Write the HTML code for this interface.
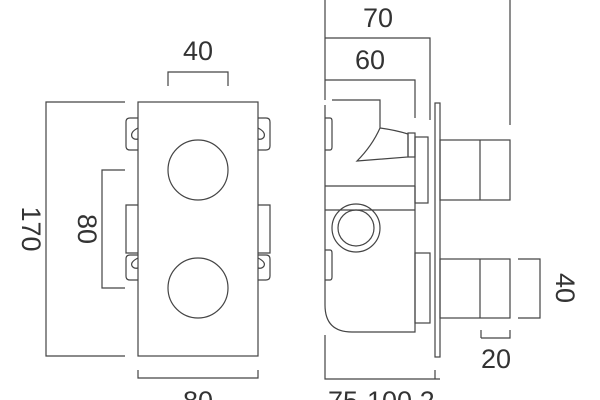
<!DOCTYPE html>
<html><head><style>
html,body{margin:0;padding:0;background:#fff;width:600px;height:400px;overflow:hidden}
text{font-family:"Liberation Sans",sans-serif;font-size:27px;fill:#333}
</style></head><body>
<svg width="600" height="400" viewBox="0 0 600 400" xmlns="http://www.w3.org/2000/svg">
<g fill="none" stroke="#444" stroke-width="1.2">
<rect x="138" y="102" width="120" height="254"/>
<circle cx="198" cy="170" r="30"/>
<circle cx="198" cy="288" r="30"/>
<path d="M168,86 V72 H228 V86"/>
<path d="M125,102 H46 V356 H125"/>
<path d="M125,170 H102 V288 H125"/>
<path d="M138,370 V378 H258 V370"/>
<path d="M138,118 H130 Q126,118 126,122 V146 Q126,150 130,150 H138"/>
<path d="M138,128 Q130,132 132,137 Q134,140 138,139"/>
<path d="M258,118 H266 Q270,118 270,122 V146 Q270,150 266,150 H258"/>
<path d="M258,128 Q266,132 264,137 Q262,140 258,139"/>
<path d="M138,205 H126 V253 H138"/>
<path d="M258,205 H270 V253 H258"/>
<path d="M138,255 H130 Q126,255 126,259 V276 Q126,280 130,280 H138"/>
<path d="M138,258 Q130,262 132,266 Q134,269 138,268"/>
<path d="M258,255 H266 Q270,255 270,259 V276 Q270,280 266,280 H258"/>
<path d="M258,258 Q266,262 264,266 Q262,269 258,268"/>
<path d="M325,105 V305 Q325,332 352,332 H415 V186"/>
<path d="M325,186 H415"/>
<path d="M325,210 H415"/>
<path d="M332,100 H380 V128 Q395,130 408,134 V157 L357,161 Q372,146 380,128"/>
<path d="M325,118 H330 Q332,118 332,121 V147 Q332,150 330,150 H325"/>
<path d="M325,250 H330 Q332,250 332,253 V277 Q332,280 330,280 H325"/>
<rect x="408" y="133" width="7" height="24"/>
<rect x="415" y="137" width="13" height="66"/>
<rect x="415" y="253" width="15" height="70"/>
<rect x="435" y="103" width="5" height="254"/>
<rect x="440" y="140" width="70" height="60"/>
<path d="M480,140 V200"/>
<rect x="440" y="259" width="70" height="59"/>
<path d="M480,259 V318"/>
<circle cx="356" cy="228" r="24"/>
<circle cx="356" cy="228" r="18"/>
<path d="M325,100 V0"/>
<path d="M325,38 H430 V120"/>
<path d="M325,80 H415 V118"/>
<path d="M510,0 V125"/>
<path d="M518,259 H540 V318 H518"/>
<path d="M481,338 V330 M481,338 H510 V330"/>
<path d="M325,335 V379 H440 M435,370 V379"/>
</g>
<text x="198" y="60" text-anchor="middle">40</text>
<text transform="translate(22,229) rotate(90)" text-anchor="middle">170</text>
<text transform="translate(78,229) rotate(90)" text-anchor="middle">80</text>
<text x="198" y="410" text-anchor="middle">80</text>
<text x="378" y="27" text-anchor="middle">70</text>
<text x="370" y="69" text-anchor="middle">60</text>
<text transform="translate(556,288) rotate(90)" text-anchor="middle">40</text>
<text x="496" y="368" text-anchor="middle">20</text>
<text x="328" y="410">75-100.2</text>
</svg>
</body></html>
